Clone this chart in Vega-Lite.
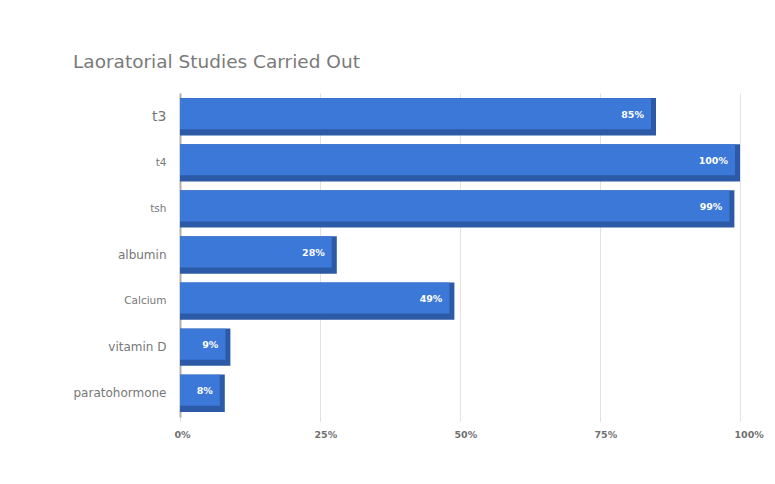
{
  "$schema": "https://vega.github.io/schema/vega-lite/v6.json",
  "width": 560,
  "height": 324,
  "padding": {"left": 50, "top": 52, "right": 20, "bottom": 10},
  "background": "white",
  "title": {
    "text": "Laoratorial Studies Carried Out",
    "anchor": "start",
    "frame": "bounds",
    "dx": 23,
    "offset": 22,
    "font": "DejaVu Sans",
    "fontSize": 18.5,
    "fontWeight": "normal",
    "color": "#7a7a7a"
  },
  "data": {
    "values": [
      {"test": "t3", "pct": 85},
      {"test": "t4", "pct": 100},
      {"test": "tsh", "pct": 99},
      {"test": "albumin", "pct": 28},
      {"test": "Calcium", "pct": 49},
      {"test": "vitamin D", "pct": 9},
      {"test": "paratohormone", "pct": 8}
    ]
  },
  "config": {
    "view": {"stroke": null},
    "font": "DejaVu Sans"
  },
  "encoding": {
    "y": {
      "field": "test",
      "type": "nominal",
      "sort": null,
      "scale": {"paddingInner": 0.19, "paddingOuter": 0.11},
      "axis": {
        "title": null,
        "minExtent": 130,
        "maxExtent": 130,
        "ticks": false,
        "labelPadding": 14,
        "labelColor": "#777777",
        "labelFontSize": {"expr": "datum.value == 't3' ? 14 : (datum.value == 'Calcium' ? 10.5 : (datum.value == 't4' || datum.value == 'tsh' ? 10.5 : 12))"},
        "domainColor": "#b0b0b0",
        "domainWidth": 2,
        "grid": false
      }
    }
  },
  "layer": [
    {
      "mark": {"type": "bar", "color": "#2c5aa6"},
      "encoding": {
        "x": {
          "field": "pct",
          "type": "quantitative",
          "scale": {"domain": [0, 100]},
          "axis": {
            "title": null,
            "values": [0, 25, 50, 75, 100],
            "labelExpr": "datum.value + '%'",
            "labelFontSize": 9.5,
            "labelFontWeight": "bold",
            "labelColor": "#707070",
            "labelPadding": 8,
            "labelAlign": "left",
            "labelOffset": -6,
            "domain": false,
            "tickSize": 4,
            "tickColor": "#dddddd",
            "gridColor": "#e2e2e2",
            "grid": true
          }
        }
      }
    },
    {
      "mark": {"type": "bar", "color": "#3b78d8", "height": 31, "yOffset": -3, "xOffset": -5},
      "encoding": {
        "x": {"field": "pct", "type": "quantitative"},
        "x2": {"datum": 0}
      }
    },
    {
      "transform": [{"calculate": "datum.pct + '%'", "as": "label"}],
      "mark": {"type": "text", "align": "right", "dx": -12, "dy": -2, "color": "white", "fontWeight": "bold", "fontSize": 9.5},
      "encoding": {
        "x": {"field": "pct", "type": "quantitative"},
        "text": {"field": "label", "type": "nominal"}
      }
    }
  ]
}
